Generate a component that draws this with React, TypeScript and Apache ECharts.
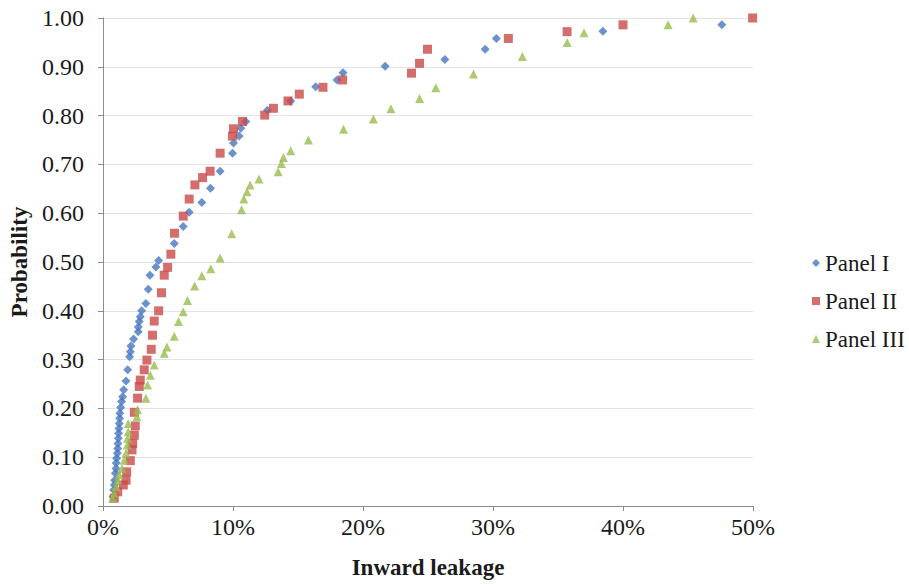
import React, { useEffect, useRef } from "react";
import * as echarts from "echarts";

// [inward leakage %, probability]
const panelI: number[][] = [
  [0.77, 0.019], [0.82, 0.033], [0.87, 0.043], [0.9, 0.053], [0.95, 0.067], [1.0, 0.077],
  [1.02, 0.088], [1.05, 0.098], [1.1, 0.108], [1.13, 0.118], [1.15, 0.128], [1.18, 0.139],
  [1.2, 0.149], [1.23, 0.159], [1.25, 0.169], [1.28, 0.18], [1.3, 0.19], [1.36, 0.202],
  [1.43, 0.214], [1.51, 0.224], [1.59, 0.238], [1.77, 0.256], [1.9, 0.279], [2.05, 0.306],
  [2.1, 0.316], [2.15, 0.328], [2.35, 0.342], [2.71, 0.357], [2.71, 0.367], [2.79, 0.378],
  [2.87, 0.388], [2.97, 0.4], [3.3, 0.415], [3.48, 0.444], [3.61, 0.473], [4.07, 0.49],
  [4.28, 0.503], [5.48, 0.538], [6.17, 0.573], [6.63, 0.602], [7.6, 0.622], [8.27, 0.651],
  [9.01, 0.686], [9.96, 0.723], [10.04, 0.744], [10.47, 0.758], [10.6, 0.774], [10.98, 0.788],
  [12.65, 0.811], [14.44, 0.83], [16.36, 0.859], [18.0, 0.873], [18.46, 0.888], [21.7, 0.901],
  [26.3, 0.915], [29.4, 0.936], [30.26, 0.958], [38.45, 0.973], [47.6, 0.986],
];

const panelII: number[][] = [
  [0.87, 0.016], [1.13, 0.029], [1.56, 0.043], [1.77, 0.053], [1.82, 0.07], [2.1, 0.093],
  [2.23, 0.115], [2.28, 0.128], [2.41, 0.145], [2.48, 0.164], [2.41, 0.192], [2.66, 0.221],
  [2.79, 0.245], [2.87, 0.258], [3.17, 0.279], [3.38, 0.299], [3.71, 0.321], [3.81, 0.35],
  [3.94, 0.379], [4.28, 0.4], [4.5, 0.437], [4.71, 0.473], [4.97, 0.489], [5.22, 0.516],
  [5.5, 0.559], [6.17, 0.594], [6.63, 0.629], [7.07, 0.658], [7.66, 0.673], [8.24, 0.686],
  [9.01, 0.723], [9.96, 0.758], [10.04, 0.773], [10.73, 0.788], [12.44, 0.801], [13.11, 0.815],
  [14.23, 0.83], [15.1, 0.844], [16.92, 0.858], [18.43, 0.873], [23.73, 0.887], [24.35, 0.907],
  [24.96, 0.936], [31.18, 0.958], [35.7, 0.972], [40.0, 0.986], [49.97, 1.0],
];

const panelIII: number[][] = [
  [0.74, 0.016], [0.87, 0.026], [1.0, 0.04], [1.13, 0.054], [1.25, 0.064], [1.46, 0.077],
  [1.64, 0.094], [1.77, 0.108], [1.87, 0.125], [1.9, 0.139], [1.94, 0.152], [1.94, 0.169],
  [2.61, 0.183], [2.66, 0.197], [3.3, 0.221], [3.43, 0.248], [3.64, 0.268], [3.94, 0.289],
  [4.71, 0.313], [4.92, 0.326], [5.48, 0.348], [5.81, 0.378], [6.17, 0.398], [6.5, 0.421],
  [7.05, 0.451], [7.6, 0.472], [8.29, 0.486], [9.01, 0.508], [9.9, 0.558], [10.66, 0.607],
  [10.83, 0.629], [11.08, 0.644], [11.32, 0.658], [12.0, 0.67], [13.47, 0.685], [13.72, 0.702],
  [13.88, 0.714], [14.44, 0.728], [15.8, 0.75], [18.5, 0.772], [20.8, 0.793], [22.15, 0.814],
  [24.35, 0.835], [25.6, 0.857], [28.5, 0.885], [32.26, 0.921], [35.7, 0.95], [37.0, 0.97],
  [43.47, 0.986], [45.4, 1.0],
];

const seriesNames = ["Panel I", "Panel II", "Panel III"];
const xTicks = { min: 0, max: 50, interval: 10 };
const yTicks = { min: 0, max: 1, interval: 0.1 };

const FONT = "Liberation Serif";
const TEXT = "#1a1a1a";
const AXIS = "#8c8c8c";

export default function App() {
  const ref = useRef<HTMLDivElement>(null);
  useEffect(() => {
    if (!ref.current) return;
    const chart = echarts.init(ref.current, undefined, { renderer: "svg" });
    chart.setOption({
      animation: false,
      backgroundColor: "#ffffff",
      textStyle: { fontFamily: FONT },
      grid: { left: 102, right: 156, top: 18, bottom: 78, containLabel: false },
      legend: {
        orient: "vertical",
        left: 807,
        top: 246,
        itemWidth: 8,
        itemHeight: 8,
        itemGap: 14,
        textStyle: { fontFamily: FONT, fontSize: 23, color: TEXT, lineHeight: 24 },
        data: [
          { name: seriesNames[0], icon: "diamond" },
          { name: seriesNames[1], icon: "rect" },
          { name: seriesNames[2], icon: "triangle" },
        ],
      },
      xAxis: {
        type: "value",
        min: xTicks.min,
        max: xTicks.max,
        interval: xTicks.interval,
        name: "Inward leakage",
        nameLocation: "middle",
        nameGap: 50,
        nameTextStyle: { fontFamily: FONT, fontSize: 23, fontWeight: "bold", color: TEXT },
        axisLine: { show: true, lineStyle: { color: AXIS, width: 1 } },
        axisTick: { show: true, length: 5, lineStyle: { color: AXIS } },
        axisLabel: {
          fontFamily: FONT,
          fontSize: 24,
          color: TEXT,
          margin: 9,
          formatter: (v: number) => `${v}%`,
        },
        splitLine: { show: false },
      },
      yAxis: {
        type: "value",
        min: yTicks.min,
        max: yTicks.max,
        interval: yTicks.interval,
        name: "Probability",
        nameLocation: "middle",
        nameRotate: 90,
        nameGap: 72,
        nameTextStyle: { fontFamily: FONT, fontSize: 23, fontWeight: "bold", color: TEXT },
        axisLine: { show: true, lineStyle: { color: AXIS, width: 1 } },
        axisTick: { show: true, length: 5, lineStyle: { color: AXIS } },
        axisLabel: {
          fontFamily: FONT,
          fontSize: 24,
          color: TEXT,
          margin: 19,
          formatter: (v: number) => v.toFixed(2),
        },
        splitLine: { show: true, lineStyle: { color: "#e3e3e3", width: 1 } },
      },
      series: [
        {
          name: seriesNames[0],
          type: "scatter",
          symbol: "diamond",
          symbolSize: 9,
          itemStyle: { color: "#4677bf" },
          data: panelI,
        },
        {
          name: seriesNames[1],
          type: "scatter",
          symbol: "rect",
          symbolSize: 9,
          itemStyle: { color: "#c94a49" },
          data: panelII,
        },
        {
          name: seriesNames[2],
          type: "scatter",
          symbol: "triangle",
          symbolSize: 9,
          itemStyle: { color: "#98bb4e" },
          data: panelIII,
        },
      ],
    });
    return () => chart.dispose();
  }, []);
  return <div ref={ref} style={{ width: 909, height: 584, position: "absolute", left: 0, top: 0 }} />;
}
